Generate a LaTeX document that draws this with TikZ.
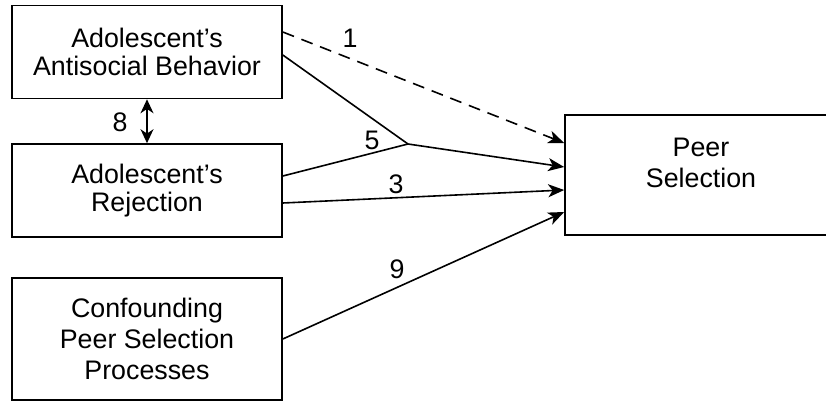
\documentclass[tikz,border=0pt]{standalone}
\usepackage{fontspec}
\setmainfont{Liberation Sans}
\usetikzlibrary{arrows.meta}
\begin{document}
\begin{tikzpicture}[x=0.5pt,y=-0.5pt,
  box/.style={draw,line width=0.8pt,minimum width=135pt,align=center,inner sep=0pt,
    font=\fontsize{13.4}{14.3}\selectfont},
  lbl/.style={font=\fontsize{13.4}{14.5}\selectfont,inner sep=0pt},
  conn/.style={line width=0.8pt},
  arr/.style={conn,-{Stealth[length=8pt,width=6.5pt,inset=2.2pt]}}]
\useasboundingbox (0,0) rectangle (826,402);
\begin{scope}
\clip (0,0) rectangle (826,402);
\node[box,minimum height=46.5pt] (A) at (147,52) {Adolescent's\\Antisocial Behavior};
\node[box,minimum height=46.5pt] (B) at (147,190.5) {Adolescent's\\Rejection};
\node[box,minimum height=61pt,font=\fontsize{13.4}{15.6}\selectfont] (C) at (147,339) {Confounding\\Peer Selection\\Processes};
\node[box,minimum height=60pt,minimum width=136pt] (D) at (701,175) {};
\node[align=center,inner sep=0pt,font=\fontsize{13.4}{15.6}\selectfont] (Dt) at (701,163) {Peer\\Selection};
\end{scope}
\coordinate (J) at (408,144);
\draw[arr,dashed,dash pattern=on 6pt off 4pt] ([yshift=10pt]A.east) -- ([yshift=16pt]D.west);
\draw[conn] ([yshift=-1.5pt]A.east) -- (J);
\draw[conn] ([yshift=7.25pt]B.east) -- (J);
\draw[arr] (J) -- ([yshift=4pt]D.west);
\draw[arr] ([yshift=-6.25pt]B.east) -- ([yshift=-7.5pt]D.west);
\draw[arr] (C.east) -- ([yshift=-18.5pt]D.west);
\draw[conn,{Stealth[length=7pt,width=6.5pt,inset=2.2pt]}-{Stealth[length=7pt,width=6.5pt,inset=2.2pt]}] (A.south) -- (B.north);
\node[lbl] (l1) at (350,38) {1};
\node[lbl] (l5) at (372,140) {5};
\node[lbl] (l3) at (396,184) {3};
\node[lbl] (l9) at (397,269) {9};
\node[lbl] (l8) at (120,122) {8};
\end{tikzpicture}
\end{document}
